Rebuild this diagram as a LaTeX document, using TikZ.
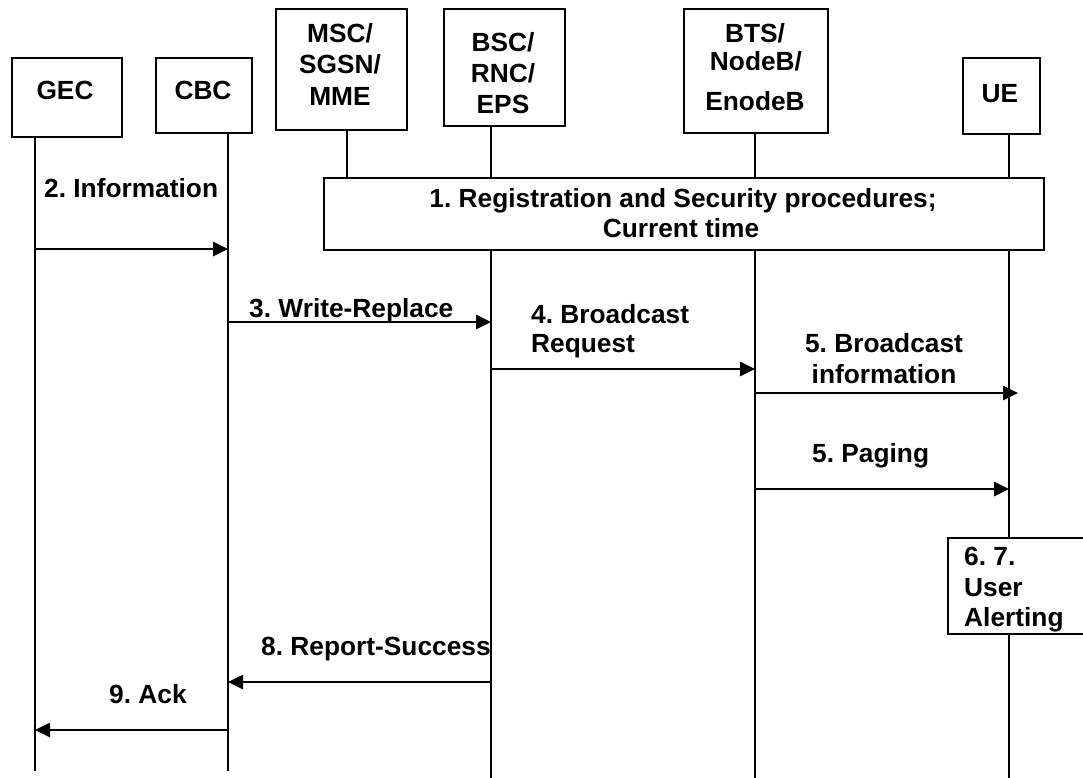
\documentclass[tikz,border=0pt]{standalone}
\usepackage{fontspec}
\setmainfont{Liberation Sans}
\usetikzlibrary{arrows.meta}
\frenchspacing
\begin{document}
\begin{tikzpicture}[x=1pt,y=-1pt,
  font=\fontsize{26.3}{31}\selectfont\bfseries,
  entity/.style={draw, line width=1.9pt, inner sep=0pt, anchor=north west},
  txt/.style={inner sep=0pt, anchor=base},
  txtl/.style={inner sep=0pt, anchor=base west},
  life/.style={line width=1.4pt},
  msg/.style={line width=2.6pt, -{Triangle[length=15pt,width=14pt]}}]
\useasboundingbox (0,0) rectangle (1083,778);
\clip (0,0) rectangle (1083,778);

% entity boxes
\node[entity, minimum width=110pt, minimum height=79pt]  (gec) at (11,57) {};
\node[entity, minimum width=96pt,  minimum height=75pt]  (cbc) at (155,57) {};
\node[entity, minimum width=131pt, minimum height=121pt] (msc) at (275,8) {};
\node[entity, minimum width=121pt, minimum height=117pt] (bsc) at (443,8) {};
\node[entity, minimum width=144pt, minimum height=124pt] (bts) at (683,8) {};
\node[entity, minimum width=77pt,  minimum height=76pt]  (ue)  at (962,57) {};

% entity names
\node[txt] (gecA) at (65,100) {GEC};
\node[txt] (cbcA) at (203,100) {CBC};
\node[txt] (mscA) at (340,43) {MSC/};
\node[txt] (mscB) at (340,74) {SGSN/};
\node[txt] (mscC) at (340,106) {MME};
\node[txt] (bscA) at (503,52) {BSC/};
\node[txt] (bscB) at (503,83) {RNC/};
\node[txt] (bscC) at (503,114) {EPS};
\node[txt] (btsA) at (755,43) {BTS/};
\node[txt] (btsB) at (756,71) {NodeB/};
\node[txt] (btsC) at (755,111) {EnodeB};
\node[txt] (ueA)  at (1000,103) {UE};

% shared procedure box and alerting box
\node[entity, fill=white, minimum width=720pt, minimum height=72pt] (reg) at (323,177) {};
\node[txt] (regA) at (683,207) {1. Registration and Security procedures;};
\node[txt] (regB) at (681,237) {Current time};
\node[entity, fill=white, minimum width=150pt, minimum height=96pt] (alert) at (947,537) {};
\node[txtl] (alA) at (964,565) {6. 7.};
\node[txtl] (alB) at (964,596) {User};
\node[txtl] (alC) at (964,626) {Alerting};

% lifeline points
\coordinate (gecT) at (35,136);   \coordinate (gecE) at (35,771);
\coordinate (cbcT) at (228,132);  \coordinate (cbcE) at (228,771);
\coordinate (mscT) at (347,129);  \coordinate (mscR) at (347,177);
\coordinate (bscT) at (491,125);  \coordinate (bscR) at (491,177);
\coordinate (bscS) at (491,249);  \coordinate (bscE) at (491,778);
\coordinate (btsT) at (755,132);  \coordinate (btsR) at (755,177);
\coordinate (btsS) at (755,249);  \coordinate (btsE) at (755,778);
\coordinate (ueT)  at (1009,133); \coordinate (ueR)  at (1009,177);
\coordinate (ueS)  at (1009,249); \coordinate (ueA1) at (1009,537);
\coordinate (ueA2) at (1009,633); \coordinate (ueE)  at (1009,778);

% lifelines
\draw[life] (gecT) -- (gecE);
\draw[life] (cbcT) -- (cbcE);
\draw[life] (mscT) -- (mscR);
\draw[life] (bscT) -- (bscR);
\draw[life] (bscS) -- (bscE);
\draw[life] (btsT) -- (btsR);
\draw[life] (btsS) -- (btsE);
\draw[life] (ueT) -- (ueR);
\draw[life] (ueS) -- (ueA1);
\draw[life] (ueA2) -- (ueE);

% message end points
\coordinate (m2a) at (35,249);   \coordinate (m2b) at (228,249);
\coordinate (m3a) at (228,322);  \coordinate (m3b) at (491,322);
\coordinate (m4a) at (491,369);  \coordinate (m4b) at (755,369);
\coordinate (m5a) at (755,393);  \coordinate (m5b) at (1018,393);
\coordinate (m6a) at (755,489);  \coordinate (m6b) at (1009,489);
\coordinate (m8a) at (491,682);  \coordinate (m8b) at (228,682);
\coordinate (m9a) at (228,730);  \coordinate (m9b) at (35,730);

% messages
\draw[msg] (m2a) -- (m2b);
\draw[msg] (m3a) -- (m3b);
\draw[msg] (m4a) -- (m4b);
\draw[msg] (m5a) -- (m5b);
\draw[msg] (m6a) -- (m6b);
\draw[msg] (m8a) -- (m8b);
\draw[msg] (m9a) -- (m9b);

% message labels
\node[txtl] (l2)  at (44,197)  {2. Information};
\node[txtl] (l3)  at (249,317) {3. Write-Replace};
\node[txtl] (l4a) at (531,323) {4. Broadcast};
\node[txtl] (l4b) at (531,352) {Request};
\node[txt]  (l5a) at (884,352) {5. Broadcast};
\node[txt]  (l5b) at (884,383) {information};
\node[txtl] (l6)  at (812,462) {5. Paging};
\node[txtl] (l8)  at (261,655) {8. Report-Success};
\node[txtl] (l9)  at (109,703) {9. Ack};
\end{tikzpicture}
\end{document}
